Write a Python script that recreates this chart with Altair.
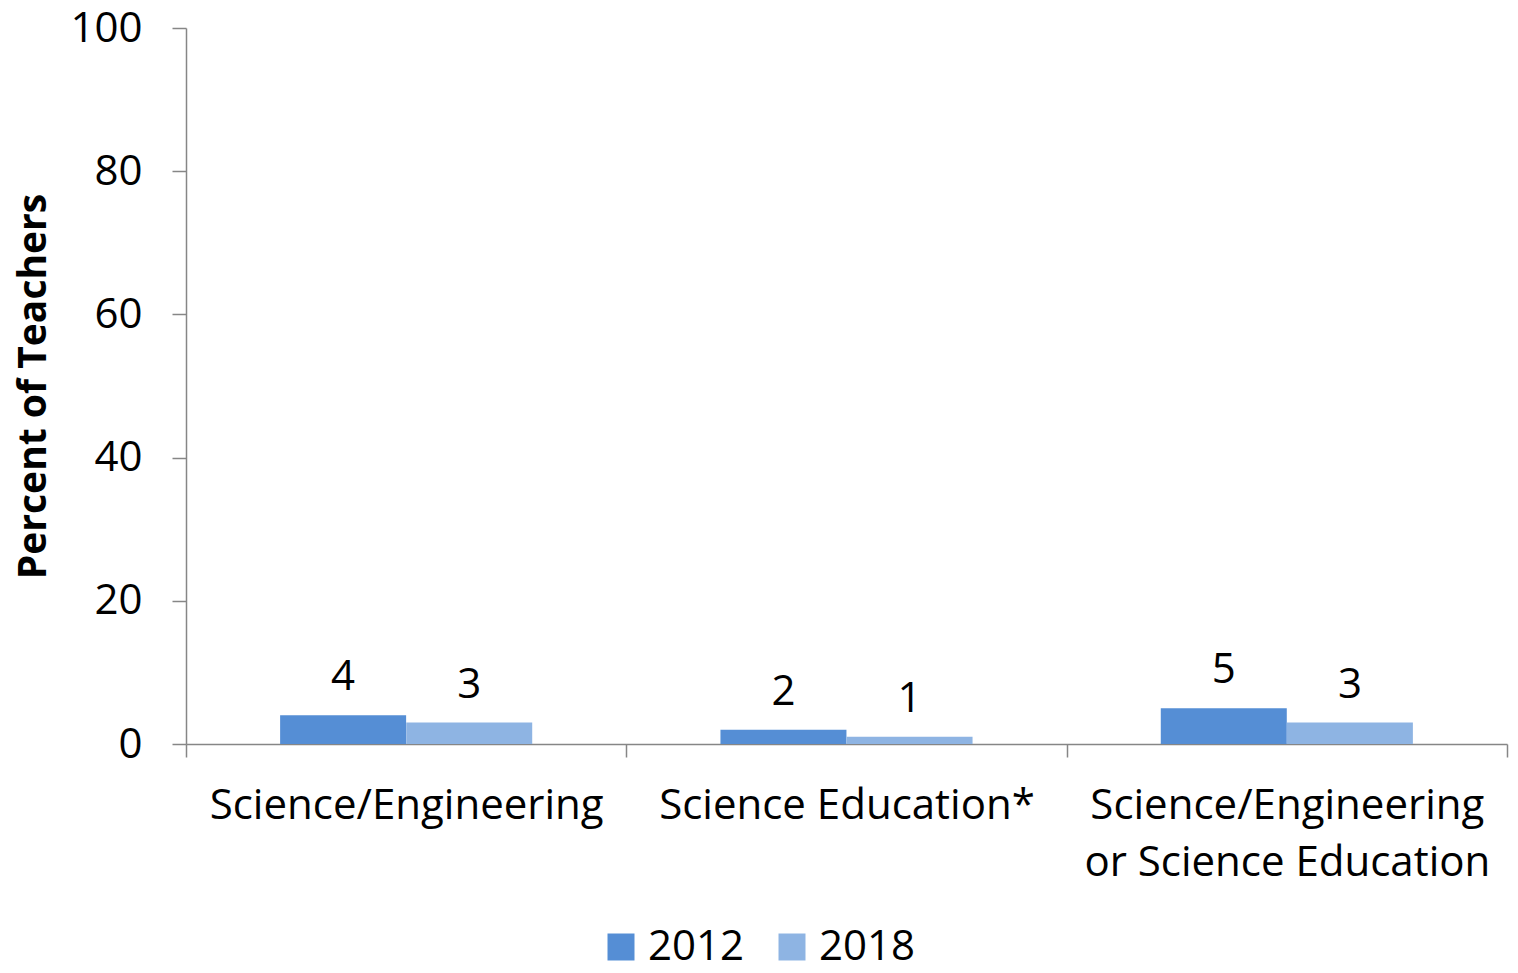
import altair as alt
import pandas as pd

categories = ["Science/Engineering", "Science Education*", "Science/Engineering or Science Education"]
years = ["2012", "2018"]
values_2012 = [4, 2, 5]
values_2018 = [3, 1, 3]
y_ticks = [0, 20, 40, 60, 80, 100]
colors = ["#558ED5", "#8EB4E3"]

rows = []
for c, a, b in zip(categories, values_2012, values_2018):
    rows.append({"category": c, "year": years[0], "value": a})
    rows.append({"category": c, "year": years[1], "value": b})
df = pd.DataFrame(rows)

FONT = "Open Sans"
AX = "#868686"
FS = 42

x = alt.X(
    "category:N", sort=categories, title=None,
    scale=alt.Scale(paddingInner=0, paddingOuter=0),
    axis=alt.Axis(
        tickBand="extent", labelAngle=0, labelFontSize=FS, labelFont=FONT,
        labelColor="black", labelPadding=28, labelLimit=0, tickSize=13,
        tickColor=AX, domainColor=AX, domainWidth=1.5, tickWidth=1.5,
        labelLineHeight=57,
        labelExpr="datum.label == 'Science/Engineering or Science Education' ? ['Science/Engineering', 'or Science Education'] : datum.label",
    ),
)
xo = alt.XOffset("year:N", sort=years, scale=alt.Scale(paddingInner=0, paddingOuter=0.746))
y = alt.Y(
    "value:Q", title="Percent of Teachers",
    scale=alt.Scale(domain=[0, 100], nice=False),
    axis=alt.Axis(
        values=y_ticks, grid=False, tickSize=14, tickColor=AX, domainColor=AX,
        domainWidth=1.5, tickWidth=1.5, labelFontSize=FS, labelFont=FONT,
        labelColor="black", labelPadding=30, titleFont=FONT, titleFontSize=39,
        titleFontWeight="bold", titleColor="black", titlePadding=16,
    ),
)

bars = alt.Chart(df).mark_bar(size=126).encode(
    x=x, xOffset=xo, y=y,
    color=alt.Color(
        "year:N", sort=years, scale=alt.Scale(domain=years, range=colors),
        legend=alt.Legend(
            title=None, orient="none", direction="horizontal", legendX=414, legendY=898,
            symbolType="square", symbolSize=729, symbolStrokeWidth=0,
            labelFontSize=FS, labelFont=FONT, labelColor="black",
            columnPadding=26, labelOffset=6,
        ),
    ),
)
labels = alt.Chart(df).mark_text(
    fontSize=FS, font=FONT, color="black", baseline="alphabetic", dy=-25
).encode(x=x, xOffset=xo, y=y, text=alt.Text("value:Q"))

chart = (bars + labels).properties(
    width=1321, height=716,
    autosize=alt.AutoSizeParams(type="none"),
    padding={"left": 178, "top": 20, "right": 3, "bottom": 218},
).configure_view(stroke=None)

chart.save("out.html", embed_options={"renderer": "svg", "actions": False})
